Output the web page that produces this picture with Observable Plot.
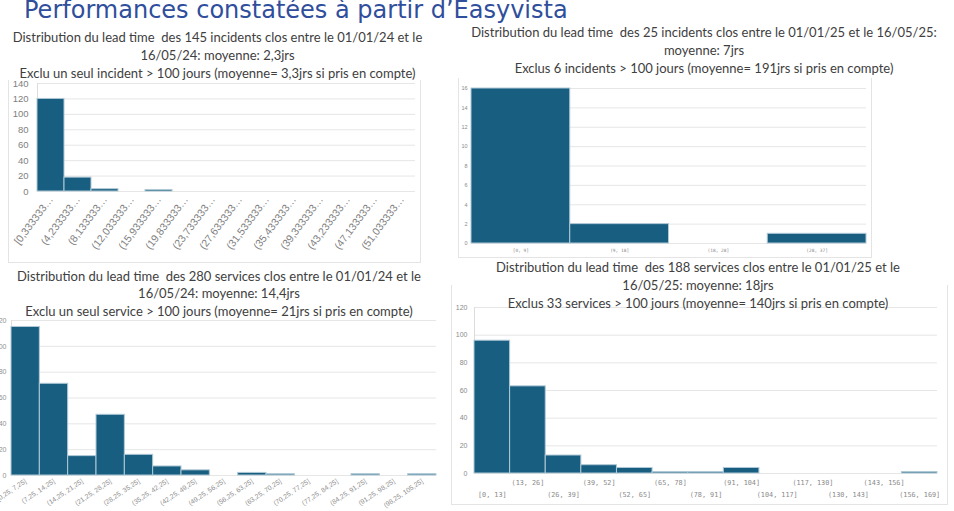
<!DOCTYPE html>
<html><head><meta charset="utf-8">
<script src="https://cdn.jsdelivr.net/npm/d3@7"></script>
<script src="https://cdn.jsdelivr.net/npm/@observablehq/plot@0.6"></script>
<style>
html,body{margin:0;padding:0;background:#fff;}
#slide{position:relative;width:954px;height:511px;overflow:hidden;background:#fff;}
.main{position:absolute;left:24px;top:-2px;font-family:"DejaVu Sans",sans-serif;font-weight:400;font-size:24px;line-height:24px;color:#2f4e9c;white-space:nowrap;}
.ttl{position:absolute;font-family:Lato,"Liberation Sans",sans-serif;font-size:13px;color:#404040;text-align:center;white-space:pre;}
.frame{position:absolute;border:1px solid #e4e4e4;border-top:none;box-sizing:border-box;}
.chart{position:absolute;}
.chart svg{overflow:visible;}
</style></head>
<body>
<div id="slide">
  <div class="frame" style="left:8px;top:80px;width:413px;height:183px"></div>
  <div class="frame" style="left:458px;top:78px;width:414px;height:180px"></div>
  <div class="frame" style="left:451px;top:285px;width:497px;height:220px"></div>
  <div class="main">Performances constatées à partir d’Easyvista</div>
</div>
<script>
// ---- data ----
const inc24Labels = ["[0,333333…","(4,233333…","(8,133333…","(12,033333…","(15,933333…","(19,833333…","(23,733333…","(27,633333…","(31,533333…","(35,433333…","(39,333333…","(43,233333…","(47,133333…","(51,033333…"];
const inc24Counts = [120,18,3,0,2,0,0,0,0,0,0,0,0,0];
const inc24Title = ["Distribution du lead time  des 145 incidents clos entre le 01/01/24 et le","16/05/24: moyenne: 2,3jrs","Exclu un seul incident > 100 jours (moyenne= 3,3jrs si pris en compte)"];

const inc25Labels = ["[0, 9]","(9, 18]","(18, 28]","(28, 37]"];
const inc25Counts = [16,2,0,1];
const inc25Title = ["Distribution du lead time  des 25 incidents clos entre le 01/01/25 et le 16/05/25:","moyenne: 7jrs","Exclus 6 incidents > 100 jours (moyenne= 191jrs si pris en compte)"];

const srv24Labels = ["[0,25, 7,25]","(7,25, 14,25]","(14,25, 21,25]","(21,25, 28,25]","(28,25, 35,25]","(35,25, 42,25]","(42,25, 49,25]","(49,25, 56,25]","(56,25, 63,25]","(63,25, 70,25]","(70,25, 77,25]","(77,25, 84,25]","(84,25, 91,25]","(91,25, 98,25]","(98,25, 105,25]"];
const srv24Counts = [115,71,15,47,16,7,4,0,2,1,0,0,1,0,1];
const srv24Title = ["Distribution du lead time  des 280 services clos entre le 01/01/24 et le","16/05/24: moyenne: 14,4jrs","Exclu un seul service > 100 jours (moyenne= 21jrs si pris en compte)"];

const srv25Labels = ["[0, 13]","(13, 26]","(26, 39]","(39, 52]","(52, 65]","(65, 78]","(78, 91]","(91, 104]","(104, 117]","(117, 130]","(130, 143]","(143, 156]","(156, 169]"];
const srv25Counts = [96,63,13,6,4,1,1,4,0,0,0,0,1];
const srv25Title = ["Distribution du lead time  des 188 services clos entre le 01/01/25 et le","16/05/25: moyenne: 18jrs","Exclus 33 services > 100 jours (moyenne= 140jrs si pris en compte)"];

const BAR = "#175e80", EDGE = "#b1c9d6", GRID = "#e6e6e6";
const slide = document.getElementById("slide");

function title(lines, cx, top, lh) {
  const d = document.createElement("div");
  d.className = "ttl";
  d.style.left = (cx - 300) + "px";
  d.style.width = "600px";
  d.style.top = top + "px";
  d.style.lineHeight = lh + "px";
  d.innerHTML = lines.map(l => l.replace(/&/g,"&amp;").replace(/</g,"&lt;").replace(/>/g,"&gt;")).join("\n");
  slide.appendChild(d);
}

function hist(o) {
  const n = o.labels.length;
  const data = o.counts.map((c, i) => ({i, c}));
  const yt = d3.range(0, o.yMax + 1, o.yStep);
  const centers = d3.range(n).map(i => i + 0.5);
  const fmt = d => o.labels[Math.round(d - 0.5)];
  const xAxes = o.rows
    ? [
        Plot.axisX(centers.filter((d, k) => k % 2 === 1), {tickSize: 0, tickPadding: o.xPad, tickFormat: fmt, fontSize: o.xFont, fontFamily: o.xFamily, fill: o.color}),
        Plot.axisX(centers.filter((d, k) => k % 2 === 0), {tickSize: 0, tickPadding: o.xPad2, tickFormat: fmt, fontSize: o.xFont, fontFamily: o.xFamily, fill: o.color})
      ]
    : [Plot.axisX(centers, {tickSize: 0, tickPadding: o.xPad, tickRotate: o.rotate || 0, tickFormat: fmt, fontSize: o.xFont, fontFamily: o.xFamily, fill: o.color})];
  const p = Plot.plot({
    width: o.width, height: o.height,
    marginLeft: o.mL, marginRight: o.mR, marginTop: o.mT, marginBottom: o.mB,
    style: {background: "transparent", fontFamily: "'Liberation Sans', Arial, sans-serif"},
    x: {domain: [0, n], label: null},
    y: {domain: [0, o.yMax], label: null},
    marks: [
      Plot.gridY(yt, {stroke: GRID, strokeOpacity: 1}),
      Plot.ruleX([0], {stroke: "#dcdcdc"}),
      Plot.rectY(data.filter(d => d.c > 0), {x1: "i", x2: d => d.i + 1, y: "c", fill: BAR, stroke: EDGE, strokeWidth: 1}),
      Plot.axisY(yt, {tickSize: 0, tickPadding: o.yPad, fontSize: o.yFont, fill: o.color}),
      ...xAxes
    ]
  });
  const wrap = document.createElement("div");
  wrap.className = "chart";
  wrap.style.left = o.left + "px";
  wrap.style.top = o.top + "px";
  wrap.appendChild(p);
  slide.appendChild(wrap);
}

// top-left: incidents 2024
hist({labels: inc24Labels, counts: inc24Counts, left: 0, top: 70, width: 425, height: 195,
  mL: 37, mR: 10, mT: 13, mB: 74, yMax: 140, yStep: 20, yFont: 9.5, yPad: 9,
  xFont: 10.5, rotate: -53, xPad: 6, color: "#808080"});
title(inc24Title, 217.5, 27.5, 18.3);

// top-right: incidents 2025
hist({labels: inc25Labels, counts: inc25Counts, left: 440, top: 80, width: 440, height: 180,
  mL: 31, mR: 14, mT: 8, mB: 17, yMax: 16, yStep: 2, yFont: 5.5, yPad: 4,
  xFont: 4.5, xFamily: "'DejaVu Sans Mono', monospace", xPad: 5, color: "#8a8a8a"});
title(inc25Title, 704, 24.3, 17.9);

// bottom-left: services 2024
hist({labels: srv24Labels, counts: srv24Counts, left: -30, top: 310, width: 476, height: 200,
  mL: 41, mR: 10, mT: 10, mB: 35, yMax: 120, yStep: 20, yFont: 7, yPad: 5,
  xFont: 6.8, rotate: -34, xPad: 5, color: "#8f8f8f"});
title(srv24Title, 219, 267.7, 17.8);

// bottom-right: services 2025
hist({labels: srv25Labels, counts: srv25Counts, left: 440, top: 300, width: 510, height: 210,
  mL: 34, mR: 13, mT: 7, mB: 37, yMax: 120, yStep: 20, yFont: 7, yPad: 7,
  xFont: 6.8, xFamily: "'DejaVu Sans Mono', monospace", rows: true, xPad: 7, xPad2: 19, color: "#8a8a8a"});
title(srv25Title, 698, 259.3, 17.85);
</script>
</body></html>
